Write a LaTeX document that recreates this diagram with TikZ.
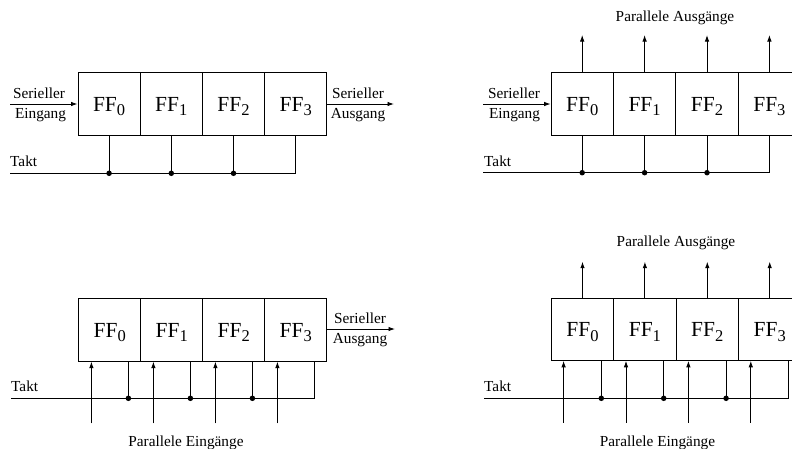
\documentclass[tikz,border=0pt]{standalone}
\usepackage{fontspec}
\setmainfont{Liberation Serif}
\usetikzlibrary{arrows.meta,calc}

% flip-flop label with a lowered index
\newcommand\ffname[1]{FF\raisebox{-4.7pt}{\fontsize{16.5}{16.5}\selectfont #1}}

\tikzset{
  wire/.style={line width=0.9pt},
  sig/.style={wire,-{Latex[length=6.5pt,width=4.5pt]}},
  cell/.style={draw,line width=0.9pt,minimum width=62.3pt,minimum height=62.3pt,
    inner sep=0pt,text height=14.3pt,text depth=0pt,font=\fontsize{21.5}{21.5}\selectfont},
  lbl/.style={font=\fontsize{15.3}{15.3}\selectfont,inner sep=0pt},
  junc/.style={circle,fill,inner sep=0pt,minimum size=5.5pt},
}

\begin{document}
\begin{tikzpicture}[x=1pt,y=-1pt]
\clip (0,0) rectangle (792,448);
\fill[white] (0,0) rectangle (792,448);

% ---------- serial in, serial out ----------
\foreach \i/\x in {0/109.1,1/171.3,2/233.5,3/295.7}
  \node[cell] (a\i) at (\x,104) {\ffname{\i}};
\coordinate (aIn) at (10,104);
\coordinate (aOut) at (394,104);
\draw[sig] (aIn) -- (a0.west);
\draw[sig] (a3.east) -- (aOut);
\node[lbl,anchor=base] (aSer) at (39,98) {Serieller};
\node[lbl,anchor=base] (aEin) at (40.5,118) {Eingang};
\node[lbl,anchor=base] (aSerO) at (358,98) {Serieller};
\node[lbl,anchor=base] (aAus) at (358,118) {Ausgang};
\coordinate (aT) at (10,173.3);
\node[lbl,anchor=base west] (aTakt) at (10,166) {Takt};
\draw[wire] (aT) -| (a3.south);
\foreach \i in {0,1,2} {
  \draw[wire] (a\i.south) -- (a\i.south |- aT);
  \node[junc] (ja\i) at (a\i.south |- aT) {};
}

% ---------- serial in, parallel out ----------
\foreach \i/\x in {0/582.2,1/644.6,2/707.0,3/769.4}
  \node[cell] (b\i) at (\x,104) {\ffname{\i}};
\coordinate (bIn) at (483,104);
\draw[sig] (bIn) -- (b0.west);
\node[lbl,anchor=base] (bSer) at (514,98) {Serieller};
\node[lbl,anchor=base] (bEin) at (514.5,118) {Eingang};
\coordinate (bTop) at (0,35);
\foreach \i in {0,...,3}
  \draw[sig] (b\i.north) -- (b\i.north |- bTop);
\node[lbl,anchor=base] (bPar) at (675,21.6) {Parallele Ausgänge};
\coordinate (bT) at (483,172.7);
\node[lbl,anchor=base west] (bTakt) at (484,166) {Takt};
\draw[wire] (bT) -| (b3.south);
\foreach \i in {0,1,2} {
  \draw[wire] (b\i.south) -- (b\i.south |- bT);
  \node[junc] (jb\i) at (b\i.south |- bT) {};
}

% ---------- parallel in, serial out ----------
\foreach \i/\x in {0/109.7,1/171.7,2/233.7,3/295.7}
  \node[cell] (c\i) at (\x,330) {\ffname{\i}};
\coordinate (cOut) at (395,329);
\draw[sig] (c3.east |- cOut) -- (cOut);
\node[lbl,anchor=base] (cSerO) at (360,323) {Serieller};
\node[lbl,anchor=base] (cAus) at (360,343.5) {Ausgang};
\coordinate (cBot) at (0,423.3);
\coordinate (cT) at (11,398.3);
\node[lbl,anchor=base west] (cTakt) at (11,391.7) {Takt};
\foreach \i in {0,...,3} {
  \coordinate (cin\i) at ($(c\i.south west)+(13.3,0)$);
  \coordinate (cck\i) at ($(c\i.south west)+(50.3,0)$);
  \draw[sig] (cin\i |- cBot) -- (cin\i);
}
\draw[wire] (cT) -| (cck3);
\foreach \i in {0,1,2} {
  \draw[wire] (cck\i) -- (cck\i |- cT);
  \node[junc] (jc\i) at (cck\i |- cT) {};
}
\node[lbl,anchor=base] (cPar) at (186,446) {Parallele Eingänge};

% ---------- parallel in, parallel out ----------
\foreach \i/\x in {0/582.5,1/644.9,2/707.3,3/769.7}
  \node[cell] (d\i) at (\x,329.2) {\ffname{\i}};
\coordinate (dTop) at (0,261.7);
\foreach \i in {0,...,3}
  \draw[sig] (d\i.north) -- (d\i.north |- dTop);
\node[lbl,anchor=base] (dParA) at (676,246.6) {Parallele Ausgänge};
\coordinate (dBot) at (0,422.7);
\coordinate (dT) at (484,398.3);
\node[lbl,anchor=base west] (dTakt) at (484,391.5) {Takt};
\foreach \i in {0,...,3} {
  \coordinate (din\i) at ($(d\i.south west)+(12.7,0)$);
  \coordinate (dck\i) at ($(d\i.south west)+(50.4,0)$);
  \draw[sig] (din\i |- dBot) -- (din\i);
}
\draw[wire] (dT) -| (dck3);
\foreach \i in {0,1,2} {
  \draw[wire] (dck\i) -- (dck\i |- dT);
  \node[junc] (jd\i) at (dck\i |- dT) {};
}
\node[lbl,anchor=base] (dPar) at (657.5,446) {Parallele Eingänge};
\end{tikzpicture}
\end{document}
